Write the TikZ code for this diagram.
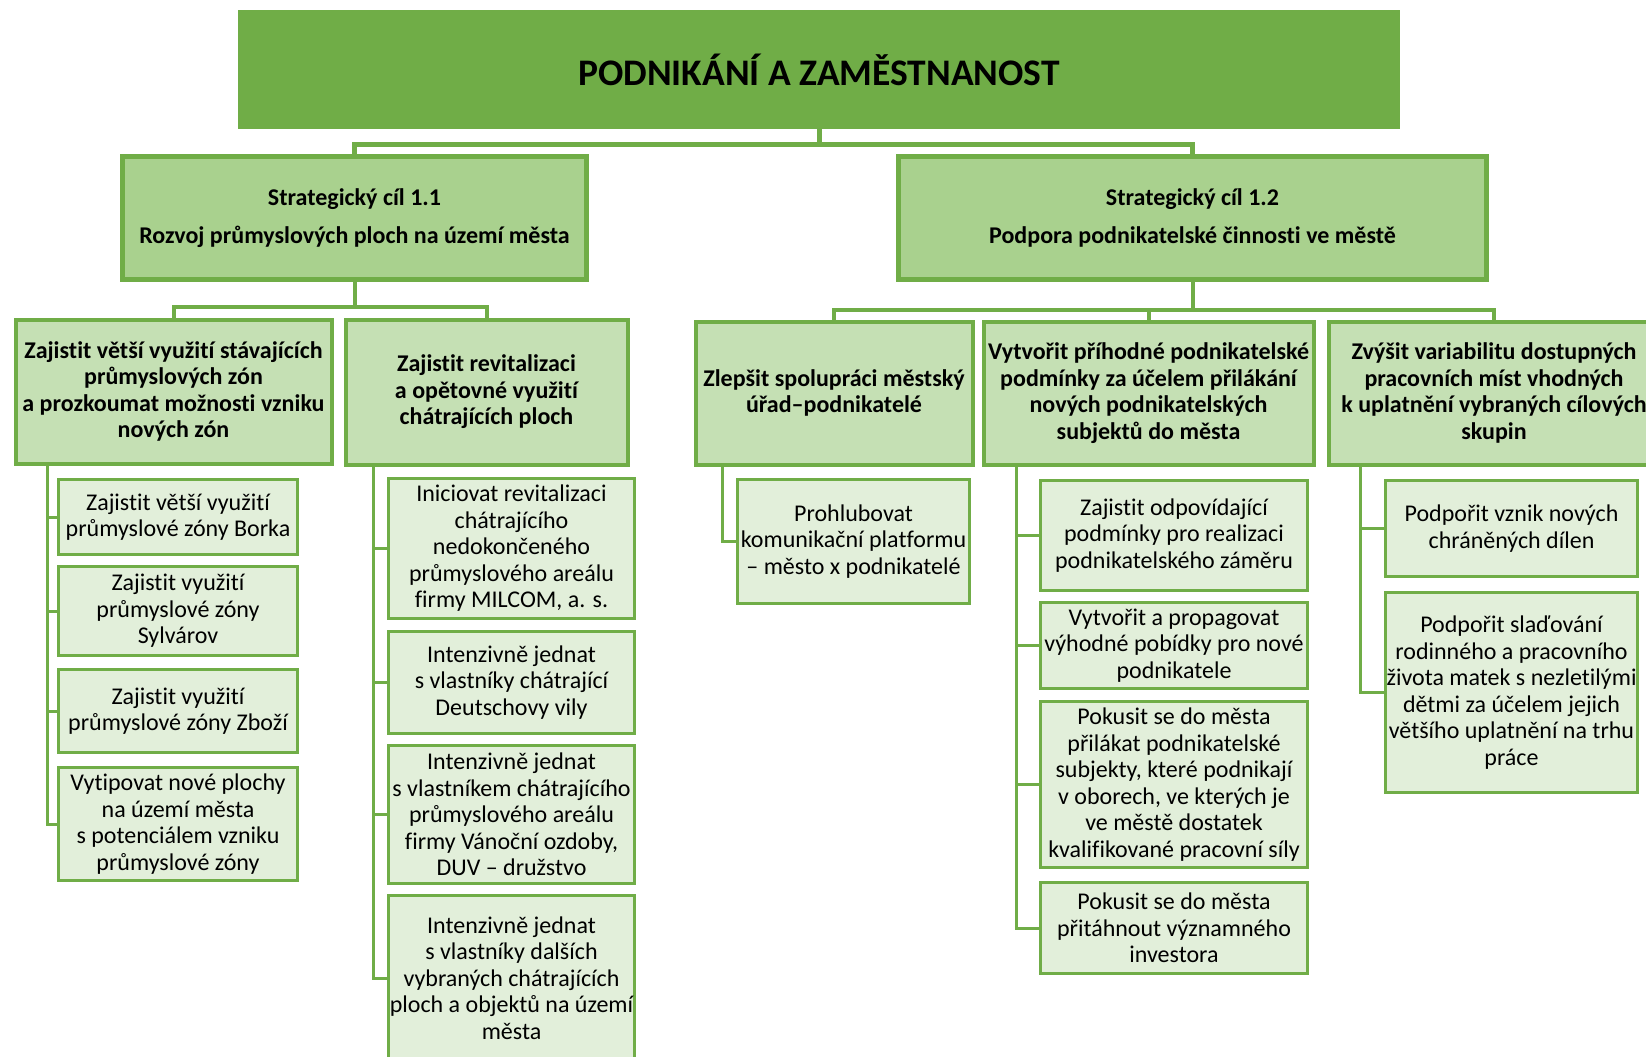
\documentclass[tikz,border=0pt]{standalone}
\usepackage{fontspec}
\setmainfont{Carlito}[Ligatures=NoCommon]
\definecolor{gA}{HTML}{70AD47}
\definecolor{gB}{HTML}{A9D18E}
\definecolor{gC}{HTML}{C5E0B4}
\definecolor{gD}{HTML}{E2EFDA}
\tikzset{
 base/.style={rectangle, inner sep=0pt, align=center, text=black},
 topbox/.style={base, fill=gA, font=\fontsize{37.5}{44}\selectfont\bfseries},
 scbox/.style={base, fill=gB, draw=gA, line width=5pt, font=\fontsize{24}{26.5}\selectfont\bfseries},
 goalbox/.style={base, fill=gC, draw=gA, line width=4pt, font=\fontsize{24}{26.5}\selectfont\bfseries},
 taskbox/.style={base, fill=gD, draw=gA, line width=3pt, font=\fontsize{24}{26.5}\selectfont},
 conn/.style={draw=gA, line width=5pt},
 conntwo/.style={draw=gA, line width=4pt},
 connthree/.style={draw=gA, line width=3pt},
}
\newcommand\mybox[7]{%
 \pgfmathsetmacro\myw{#5-#3-3}\pgfmathsetmacro\myh{#6-#4-3}%
 \node[#1, minimum width=\myw pt, minimum height=\myh pt] (#2) at ({(#3+#5)/2},{(#4+#6)/2}) {#7};}
\begin{document}
\begin{tikzpicture}[x=1pt,y=-1pt]
\useasboundingbox (0,0) rectangle (1646,1057);
\clip (0,0) rectangle (1646,1057);
\fill[white] (0,0) rectangle (1646,1057);

% top
\node[topbox, minimum width=1162pt, minimum height=119pt] (top) at (819,69.5) {PODNIKÁNÍ A ZAMĚSTNANOST};

% strategic goals
\mybox{scbox}{sc1}{121}{155}{588}{281}{Strategický cíl 1.1\\[11pt]Rozvoj průmyslových ploch na území města}
\mybox{scbox}{sc2}{897}{155}{1488}{281}{Strategický cíl 1.2\\[11pt]Podpora podnikatelské činnosti ve městě}

% goals
\mybox{goalbox}{a1}{14}{318}{333}{465}{Zajistit větší využití stávajících\\průmyslových zón\\a prozkoumat možnosti vzniku\\nových zón}
\mybox{goalbox}{a2}{344}{318}{629}{466}{Zajistit revitalizaci\\a opětovné využití\\chátrajících ploch}
\mybox{goalbox}{b1}{694}{320}{974}{466}{Zlepšit spolupráci městský\\úřad–podnikatelé}
\mybox{goalbox}{b2}{982}{320}{1315}{466}{Vytvořit příhodné podnikatelské\\podmínky za účelem přilákání\\nových podnikatelských\\subjektů do města}
\mybox{goalbox}{b3}{1327}{320}{1661}{466}{Zvýšit variabilitu dostupných\\pracovních míst vhodných\\k uplatnění vybraných cílových\\skupin}

% tasks A1
\mybox{taskbox}{a1a}{57}{478}{299}{556}{Zajistit větší využití\\průmyslové zóny Borka}
\mybox{taskbox}{a1b}{57}{565}{299}{657}{Zajistit využití\\průmyslové zóny\\Sylvárov}
\mybox{taskbox}{a1c}{57}{668}{299}{754}{Zajistit využití\\průmyslové zóny Zboží}
\mybox{taskbox}{a1d}{57}{766}{299}{882}{Vytipovat nové plochy\\na území města\\s potenciálem vzniku\\průmyslové zóny}

% tasks A2
\mybox{taskbox}{a2a}{387}{477}{636}{620}{Iniciovat revitalizaci\\chátrajícího\\nedokončeného\\průmyslového areálu\\firmy MILCOM, a. s.}
\mybox{taskbox}{a2b}{387}{630}{636}{735}{Intenzivně jednat\\s vlastníky chátrající\\Deutschovy vily}
\mybox{taskbox}{a2c}{387}{744}{636}{885}{Intenzivně jednat\\s vlastníkem chátrajícího\\průmyslového areálu\\firmy Vánoční ozdoby,\\DUV – družstvo}
\mybox{taskbox}{a2d}{387}{894}{636}{1062}{Intenzivně jednat\\s vlastníky dalších\\vybraných chátrajících\\ploch a objektů na území\\města}

% tasks B1
\mybox{taskbox}{b1a}{736}{478}{971}{605}{Prohlubovat\\komunikační platformu\\– město x podnikatelé}

% tasks B2
\mybox{taskbox}{b2a}{1039}{479}{1309}{592}{Zajistit odpovídající\\podmínky pro realizaci\\podnikatelského záměru}
\mybox{taskbox}{b2b}{1039}{601}{1309}{690}{Vytvořit a propagovat\\výhodné pobídky pro nové\\podnikatele}
\mybox{taskbox}{b2c}{1039}{700}{1309}{869}{Pokusit se do města\\přilákat podnikatelské\\subjekty, které podnikají\\v oborech, ve kterých je\\ve městě dostatek\\kvalifikované pracovní síly}
\mybox{taskbox}{b2d}{1039}{881}{1309}{975}{Pokusit se do města\\přitáhnout významného\\investora}

% tasks B3
\mybox{taskbox}{b3a}{1384}{479}{1639}{578}{Podpořit vznik nových\\chráněných dílen}
\mybox{taskbox}{b3b}{1384}{591}{1639}{794}{Podpořit slaďování\\rodinného a pracovního\\života matek s nezletilými\\dětmi za účelem jejich\\většího uplatnění na trhu\\práce}

% connectors level 1
\coordinate (bus0) at (819,144);
\draw[conn] (top.south) -- (bus0) -| (sc1.north);
\draw[conn] (bus0) -| (sc2.north);

% connectors level 2
\coordinate (bus1) at (354.5,307);
\draw[conntwo] (sc1.south) -- (bus1) -| (a1.north);
\draw[conntwo] (bus1) -| (a2.north);
\coordinate (bus2) at (1192.5,310);
\draw[conntwo] (sc2.south) -- (bus2) -| (b1.north);
\draw[conntwo] (bus2) -| (b2.north);
\draw[conntwo] (bus2) -| (b3.north);

% connectors level 3
\coordinate (va1) at (47,0);
\foreach \c in {a1a,a1b,a1c,a1d} \draw[connthree] (a1.south -| va1) |- (\c.west);
\coordinate (va2) at (373,0);
\foreach \c in {a2a,a2b,a2c,a2d} \draw[connthree] (a2.south -| va2) |- (\c.west);
\coordinate (vb1) at (722,0);
\draw[connthree] (b1.south -| vb1) |- (b1a.west);
\coordinate (vb2) at (1016,0);
\foreach \c in {b2a,b2b,b2c,b2d} \draw[connthree] (b2.south -| vb2) |- (\c.west);
\coordinate (vb3) at (1360,0);
\foreach \c in {b3a,b3b} \draw[connthree] (b3.south -| vb3) |- (\c.west);
\end{tikzpicture}
\end{document}
